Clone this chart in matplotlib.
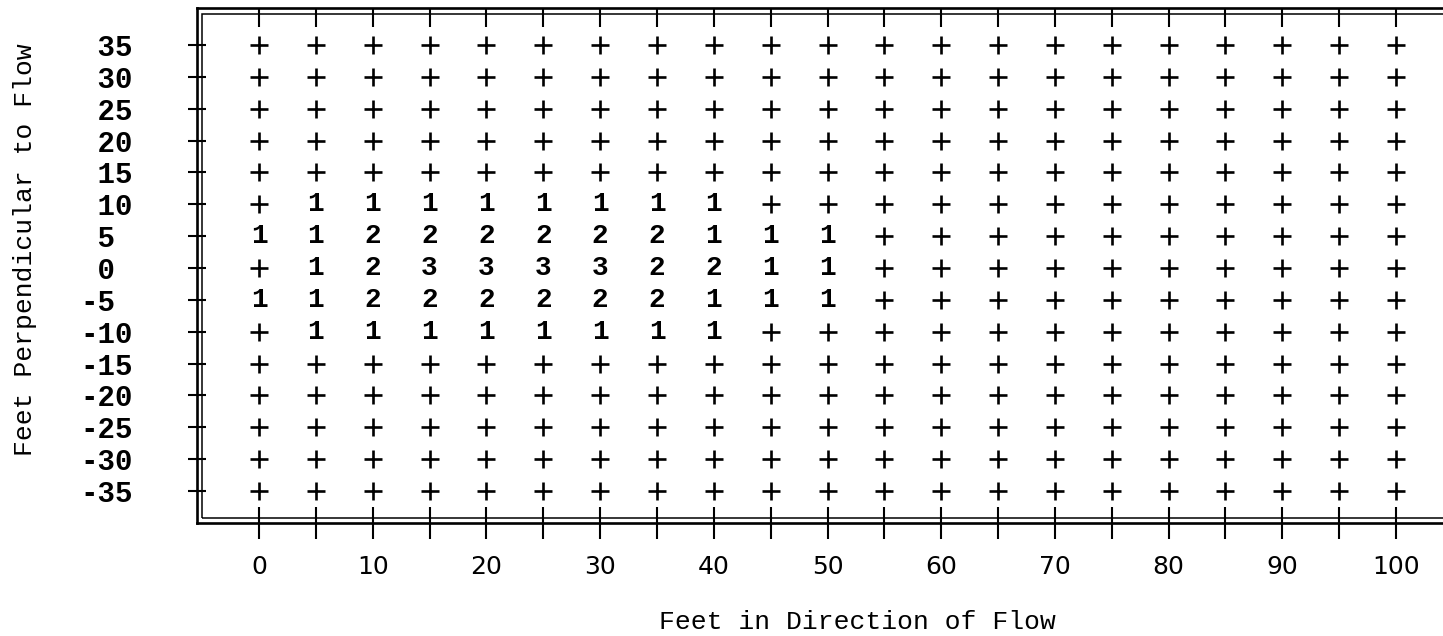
import numpy as np
import matplotlib.pyplot as plt
from matplotlib.patches import Rectangle

# grid positions (feet)
x_ft = [0, 5, 10, 15, 20, 25, 30, 35, 40, 45, 50, 55, 60, 65, 70, 75, 80, 85, 90, 95, 100]
y_ft = [35, 30, 25, 20, 15, 10, 5, 0, -5, -10, -15, -20, -25, -30, -35]
x_ticklabels = ['0', '', '10', '', '20', '', '30', '', '40', '', '50', '', '60', '', '70', '',
                '80', '', '90', '', '100']

# values per row, only the non-zero rows, columns 0..50
row_10 = [0, 1, 1, 1, 1, 1, 1, 1, 1, 0, 0]
row_5 = [1, 1, 2, 2, 2, 2, 2, 2, 1, 1, 1]
row_0 = [0, 1, 2, 3, 3, 3, 3, 2, 2, 1, 1]
row_m5 = [1, 1, 2, 2, 2, 2, 2, 2, 1, 1, 1]
row_m10 = [0, 1, 1, 1, 1, 1, 1, 1, 1, 0, 0]

grid = np.zeros((len(y_ft), len(x_ft)), dtype=int)
for yv, row in [(10, row_10), (5, row_5), (0, row_0), (-5, row_m5), (-10, row_m10)]:
    grid[y_ft.index(yv), :len(row)] = row

W, H = 1443, 636
fig = plt.figure(figsize=(W / 100, H / 100), dpi=100)
# outer frame in pixels: left 197, top 8, bottom 523, right off the page
left, top, bottom, right = 197, 8, 523, 1470
ax = fig.add_axes([left / W, (H - bottom) / H, (right - left) / W, (bottom - top) / H])

px_per_ft_x = (1396 - 259) / 100
px_per_ft_y = (491 - 45) / 70
ax.set_xlim((left - 259) / px_per_ft_x, (right - 259) / px_per_ft_x)
ax.set_ylim(-35 - (bottom - 491) / px_per_ft_y, 35 + (45 - top) / px_per_ft_y)

mono = 'Liberation Mono'

# zeros shown as '+', the rest as digits
X, Y = np.meshgrid(x_ft, y_ft)
zero = grid == 0
ax.plot(X[zero], Y[zero], ls='none', marker='+', ms=13, mew=1.9, color='black')
for i, yv in enumerate(y_ft):
    for j, xv in enumerate(x_ft):
        if grid[i, j] != 0:
            ax.text(xv, yv, str(grid[i, j]), ha='center', va='center', fontsize=20,
                    family=mono, fontweight='bold')

# double frame
for s in ax.spines.values():
    s.set_linewidth(1.9)
dx = 5.5 / (right - left)
dy = 5.5 / (bottom - top)
ax.add_patch(Rectangle((dx, dy), 1 - 2 * dx, 1 - 2 * dy, transform=ax.transAxes,
                       fill=False, lw=1.1, color='black', clip_on=False))

ax.set_xticks(x_ft)
ax.set_xticklabels(x_ticklabels, family='DejaVu Sans', fontsize=18)
ax.tick_params(axis='x', direction='inout', length=23, width=1.5, pad=11.5)

ax.set_yticks(y_ft)
ax.set_yticklabels(['% d' % v for v in y_ft], family=mono, fontsize=21, fontweight='bold',
                   ha='left')
ax.tick_params(axis='y', direction='inout', length=13, width=1.5, pad=77.7)

top_ax = ax.secondary_xaxis('top')
top_ax.set_xticks(x_ft)
top_ax.tick_params(direction='in', length=14, width=1.5, labeltop=False)

fig.text(857 / W, 1 - 622 / H, 'Feet in Direction of Flow', ha='center', va='center',
         family=mono, fontsize=19)
fig.text(25 / W, 1 - 250 / H, 'Feet Perpendicular to Flow', ha='center', va='center',
         rotation=90, family=mono, fontsize=19)

fig.savefig('out.png', dpi=100)
